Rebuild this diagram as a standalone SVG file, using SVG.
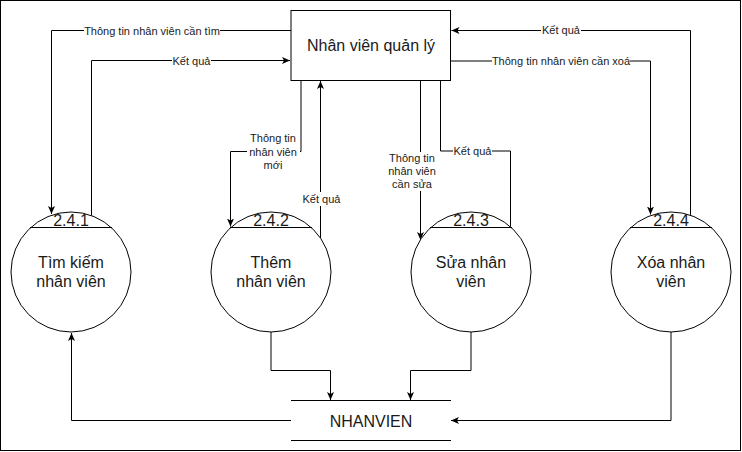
<svg xmlns="http://www.w3.org/2000/svg" width="742" height="452" viewBox="0 0 742 452">
<defs>
<style>
.ln{fill:none;stroke:#000;stroke-width:1}
.arr{marker-end:url(#ah)}
.t{font-family:"Liberation Sans",Arial,sans-serif;fill:#1a1a1a;text-anchor:middle;dominant-baseline:central}
.big{font-size:16px}
.sm{font-size:11px}
.bg{fill:#fff}
</style>
<marker id="ah" markerUnits="userSpaceOnUse" markerWidth="9" markerHeight="8" refX="8" refY="3.5" orient="auto">
<path d="M0,0 L8,3.5 L0,7 L2,3.5 Z" fill="#000"/>
</marker>
</defs>
<rect x="0.5" y="0.5" width="740" height="450" fill="#fff" stroke="#000"/>
<g id="connectors">
<path class="ln arr" d="M291,30.5 H51.5 V214"/>
<path class="ln arr" d="M91.5,215.7 V60.5 H290"/>
<path class="ln arr" d="M301,80.5 V151.5 H230.5 V226.5"/>
<path class="ln arr" d="M320.5,238.5 V81"/>
<path class="ln arr" d="M420.5,80.5 V240"/>
<path class="ln" d="M510.5,227 V151 H440.5 V80.5"/>
<path class="ln arr" d="M451,61 H650.5 V214.5"/>
<path class="ln arr" d="M690.5,215.3 V30.5 H451.5"/>
<path class="ln arr" d="M271,332 V370.5 H330.5 V400"/>
<path class="ln arr" d="M471,332 V370.5 H410.5 V400"/>
<path class="ln arr" d="M671,332 V420.5 H451"/>
<path class="ln arr" d="M291,420.5 H71.5 V333"/>
<rect class="bg" x="84" y="24" width="136" height="13"/>
<text class="t sm" x="152" y="30.5">Thông tin nhân viên cần tìm</text>
<rect class="bg" x="172" y="54" width="39" height="13"/>
<text class="t sm" x="191.5" y="60.5">Kết quả</text>
<rect class="bg" x="541" y="24" width="40" height="13"/>
<text class="t sm" x="561" y="30">Kết quả</text>
<rect class="bg" x="492" y="55" width="138" height="13"/>
<text class="t sm" x="561" y="61">Thông tin nhân viên cần xoá</text>
<rect class="bg" x="247" y="131" width="53" height="40"/>
<text class="t sm" x="273" y="138">Thông tin</text>
<text class="t sm" x="273" y="151.5">nhân viên</text>
<text class="t sm" x="273" y="164.5">mới</text>
<rect class="bg" x="302" y="192" width="39" height="14"/>
<text class="t sm" x="321.5" y="199">Kết quả</text>
<rect class="bg" x="388" y="152" width="34" height="39"/>
<text class="t sm" x="412" y="158">Thông tin</text>
<text class="t sm" x="412" y="171">nhân viên</text>
<text class="t sm" x="412" y="184">cần sửa</text>
<rect class="bg" x="453" y="144" width="39" height="14"/>
<text class="t sm" x="472.5" y="150.5">Kết quả</text>
</g>
<g id="nhanvien-quanly">
<rect x="291" y="10.5" width="159.5" height="70" fill="#fff" stroke="#000"/>
<text class="t big" x="371" y="45.5">Nhân viên quản lý</text>
</g>
<g id="p241">
<circle cx="71" cy="272" r="60" fill="#fff" stroke="#000"/>
<line class="ln" x1="30" y1="227.5" x2="112" y2="227.5"/>
<text class="t big" x="71" y="220">2.4.1</text>
<text class="t big" x="71" y="262">Tìm kiếm</text>
<text class="t big" x="71" y="281">nhân viên</text>
</g>
<g id="p242">
<circle cx="271" cy="272" r="60" fill="#fff" stroke="#000"/>
<line class="ln" x1="230" y1="227.5" x2="312" y2="227.5"/>
<text class="t big" x="271" y="220">2.4.2</text>
<text class="t big" x="271" y="262">Thêm</text>
<text class="t big" x="271" y="281">nhân viên</text>
</g>
<g id="p243">
<circle cx="471" cy="272" r="60" fill="#fff" stroke="#000"/>
<line class="ln" x1="430" y1="227.5" x2="512" y2="227.5"/>
<text class="t big" x="471" y="220">2.4.3</text>
<text class="t big" x="471" y="262">Sửa nhân</text>
<text class="t big" x="471" y="281">viên</text>
</g>
<g id="p244">
<circle cx="671" cy="272" r="60" fill="#fff" stroke="#000"/>
<line class="ln" x1="630" y1="227.5" x2="712" y2="227.5"/>
<text class="t big" x="671" y="220">2.4.4</text>
<text class="t big" x="671" y="262">Xóa nhân</text>
<text class="t big" x="671" y="281">viên</text>
</g>
<g id="store-nhanvien">
<line class="ln" x1="291" y1="400.5" x2="451" y2="400.5"/>
<line class="ln" x1="291" y1="440.5" x2="451" y2="440.5"/>
<text class="t big" x="371" y="421">NHANVIEN</text>
</g>
</svg>
